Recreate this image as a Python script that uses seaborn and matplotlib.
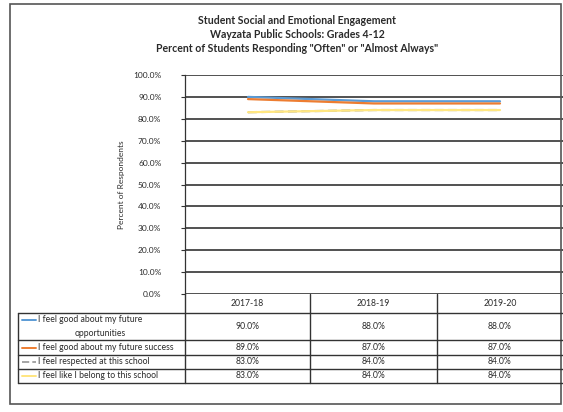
import matplotlib
matplotlib.use("Agg")
import matplotlib.pyplot as plt
import seaborn as sns
import pandas as pd
from matplotlib.patches import Rectangle
from matplotlib.lines import Line2D

years = ["2017-18", "2018-19", "2019-20"]
series_names = [
    "I feel good about my future opportunities",
    "I feel good about my future success",
    "I feel respected at this school",
    "I feel like I belong to this school",
]
table_labels = [
    "I feel good about my future\nopportunities",
    "I feel good about my future success",
    "I feel respected at this school",
    "I feel like I belong to this school",
]
opportunities = [90.0, 88.0, 88.0]
success = [89.0, 87.0, 87.0]
respected = [83.0, 84.0, 84.0]
belong = [83.0, 84.0, 84.0]
values = [opportunities, success, respected, belong]
yticks = [0, 10, 20, 30, 40, 50, 60, 70, 80, 90, 100]
title_lines = [
    "Student Social and Emotional Engagement",
    "Wayzata Public Schools: Grades 4-12",
    'Percent of Students Responding "Often" or "Almost Always"',
]
colors = ["#5B9BD5", "#ED7D31", "#A5A5A5", "#FFE680"]

rows = []
for name, vals in zip(series_names, values):
    for y, v in zip(years, vals):
        rows.append({"Year": y, "Series": name, "Value": v})
df = pd.DataFrame(rows)

sns.set_style("white")
plt.rcParams["font.family"] = ["Lato", "DejaVu Sans"]
TXT = "#2a2a2a"

W, H = 563, 412
fig = plt.figure(figsize=(W / 100, H / 100), dpi=100)

def fx(px):
    return px / W

def fy(py):
    return 1 - py / H

ax_left, ax_right, ax_top, ax_bot = 185, 563, 75, 294
ax = fig.add_axes([fx(ax_left), fy(ax_bot), fx(ax_right) - fx(ax_left), fy(ax_top) - fy(ax_bot)])

sns.lineplot(data=df, x="Year", y="Value", hue="Series", style="Series",
             palette=colors, dashes=[(None, None), (None, None), (4, 2), (None, None)],
             markers=False, linewidth=1.6, ax=ax, legend=False, sort=False)

ax.set_xlim(-0.5, 2.5)
ax.set_ylim(0, 100)
ax.set_yticks(yticks)
ax.set_yticklabels([f"{t:.1f}%" for t in yticks], fontsize=6, color=TXT)
ax.set_xticks([])
ax.set_xlabel("")
ax.set_ylabel("Percent of Respondents", fontsize=6, color=TXT, labelpad=6)
ax.tick_params(axis="y", length=3, width=0.8, color="#333333", pad=14, left=True)
for yv in yticks:
    ax.axhline(yv, color="#333333", lw=1.2, zorder=0)
for s in ["top", "right", "bottom"]:
    ax.spines[s].set_visible(False)
ax.spines["left"].set_color("#333333")
ax.spines["left"].set_linewidth(0.9)

# Titles
for i, t in enumerate(title_lines):
    fig.text(fx(297), fy(20 + 14 * i), t, ha="center", va="center",
             fontsize=7.6, fontweight="bold", color=TXT)

# Outer border
fig.add_artist(Rectangle((fx(10), fy(404)), fx(561) - fx(10), fy(4) - fy(404),
                         transform=fig.transFigure, fill=False, ec="#555555", lw=1.2))

# Data table
col_x = [185, 310, 437, 563]
row_y = [294, 313, 340, 355, 369, 383]
lab_left = 18

def hline(x0, x1, y, lw=1.0):
    fig.add_artist(Line2D([fx(x0), fx(x1)], [fy(y), fy(y)], transform=fig.transFigure,
                          color="#333333", lw=lw))

def vline(x, y0, y1, lw=1.0):
    fig.add_artist(Line2D([fx(x), fx(x)], [fy(y0), fy(y1)], transform=fig.transFigure,
                          color="#333333", lw=lw))

for y in row_y[1:]:
    hline(lab_left, col_x[-1], y)
for x in col_x[:-1]:
    vline(x, row_y[0], row_y[-1])
vline(lab_left, row_y[1], row_y[-1])

FS = 6.2
for j, yr in enumerate(years):
    fig.text(fx((col_x[j] + col_x[j + 1]) / 2), fy((row_y[0] + row_y[1]) / 2), yr,
             ha="center", va="center", fontsize=FS, color=TXT)

for i, (lab, vals) in enumerate(zip(table_labels, values)):
    yc = (row_y[i + 1] + row_y[i + 2]) / 2
    ytop = row_y[i + 1] + 7 if i == 0 else yc
    fig.add_artist(Line2D([fx(22), fx(36)], [fy(ytop), fy(ytop)], transform=fig.transFigure,
                          color=colors[i], lw=1.4,
                          ls="--" if i == 2 else "-"))
    if i == 0:
        fig.text(fx(38), fy(ytop), "I feel good about my future", ha="left", va="center",
                 fontsize=FS, color=TXT)
        fig.text(fx(100), fy(ytop + 13), "opportunities", ha="center", va="center",
                 fontsize=FS, color=TXT)
    else:
        fig.text(fx(38), fy(yc), lab, ha="left", va="center", fontsize=FS, color=TXT)
    for j, v in enumerate(vals):
        fig.text(fx((col_x[j] + col_x[j + 1]) / 2), fy(yc), f"{v:.1f}%",
                 ha="center", va="center", fontsize=FS, color=TXT)

fig.savefig("out.png", dpi=100, facecolor="white")
